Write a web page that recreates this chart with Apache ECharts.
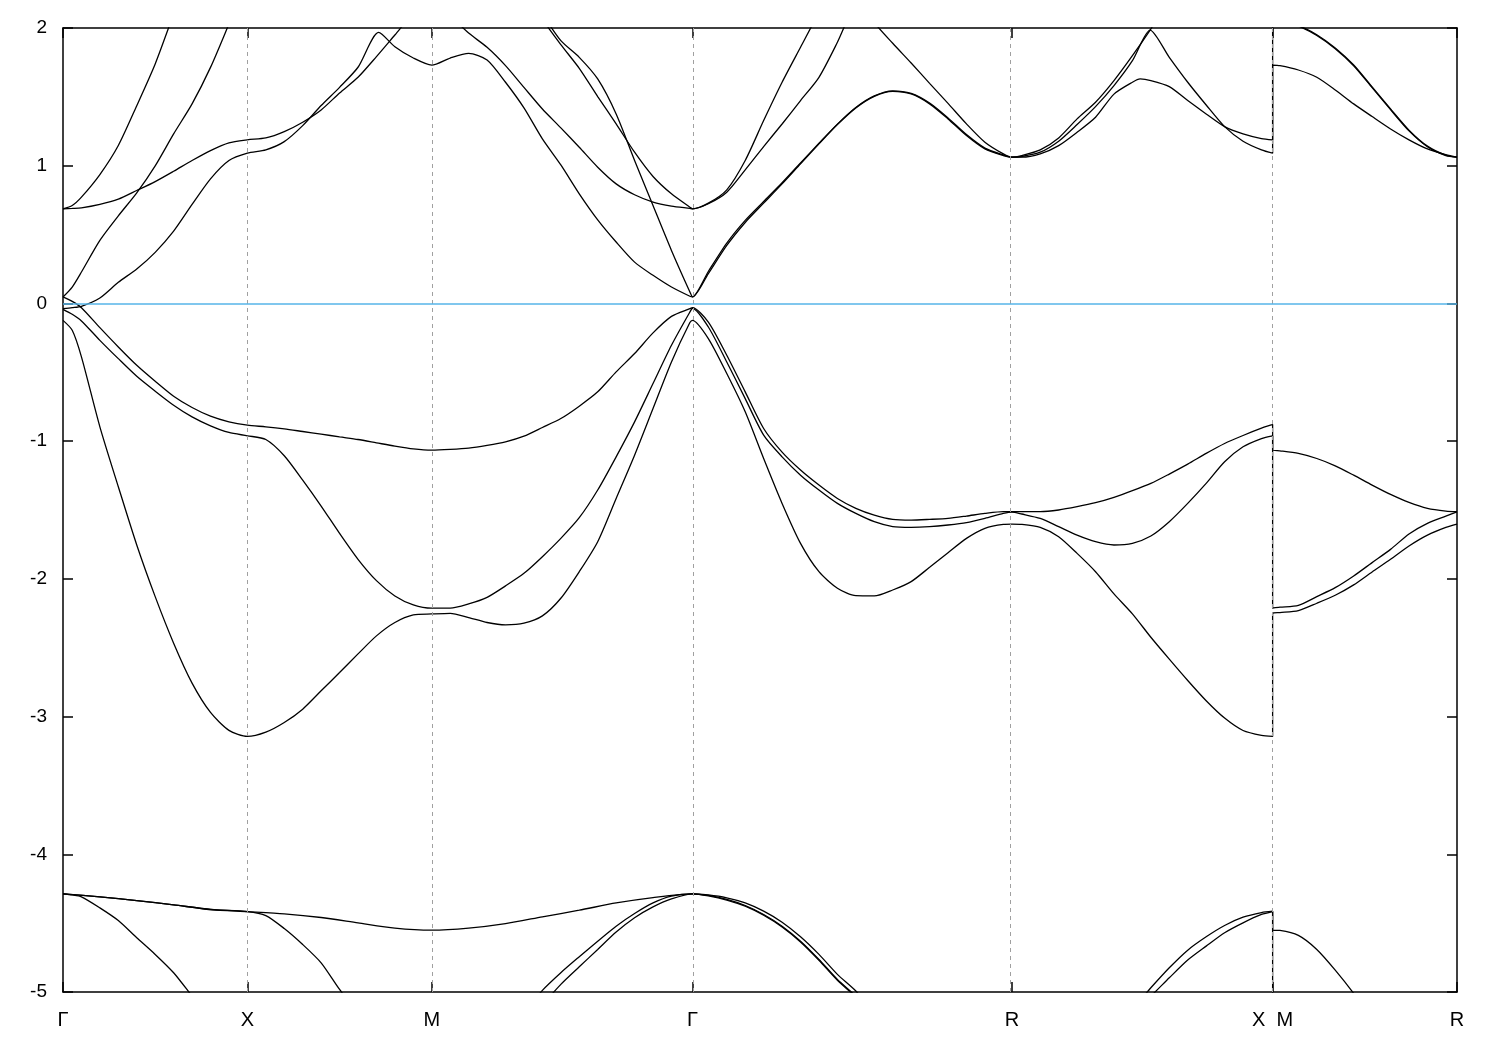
<!DOCTYPE html>
<html><head><meta charset="utf-8">
<script src="https://cdn.jsdelivr.net/npm/echarts@6/dist/echarts.min.js"></script>
<style>html,body{margin:0;padding:0;background:#fff}#c{width:1500px;height:1050px}</style>
</head><body><div id="c"></div>
<script>
// high-symmetry points along the k-path (units of 2*pi/a)
const symK = [0, 0.5, 1.0, 1.7071, 2.5731, 3.2802, 3.7802];
const symLabels = ['Γ', 'X', 'M', 'Γ', 'R', 'X  M', 'R'];
const eMin = -5, eMax = 2, eStep = 1;
const fermiLevel = 0;

// bands as [k, E(eV)] pairs (values outside [-5,2] are estimates, clipped)
const bandL1 = [[0,-4.287],[0.025,-4.295],[0.05,-4.309],[0.1,-4.389],[0.15,-4.481],[0.2,-4.606],[0.25,-4.727],[0.3,-4.86],[0.35,-5.03],[0.4,-5.2],[0.5,-5.5],[1.0,-5.8],[1.25,-5.3],[1.3,-5.1],[1.35,-4.945],[1.4,-4.817],[1.45,-4.691],[1.5,-4.565],[1.55,-4.461],[1.6,-4.382],[1.65,-4.324],[1.7071,-4.287],
 [1.75,-4.299],[1.8,-4.328],[1.85,-4.372],[1.9,-4.437],[1.95,-4.522],[2.0,-4.631],[2.05,-4.764],[2.1,-4.909],[2.15,-5.03],[2.25,-5.3],[2.5731,-5.8],[2.9,-5.7],[3.2802,-5.5],[3.2802,-5.9],[3.7802,-5.9]];
const bandL2 = [[0,-4.287],[0.1,-4.309],[0.2,-4.336],[0.3,-4.367],[0.4,-4.401],[0.5,-4.416],[0.55,-4.445],[0.6,-4.539],[0.65,-4.655],[0.7,-4.788],[0.75,-4.981],[0.8,-5.15],[1.0,-5.6],[1.25,-5.15],[1.3,-4.988],[1.35,-4.86],[1.4,-4.744],[1.45,-4.631],[1.5,-4.522],[1.55,-4.43],[1.6,-4.353],[1.65,-4.304],[1.7071,-4.287],
 [1.75,-4.302],[1.8,-4.332],[1.85,-4.377],[1.9,-4.443],[1.95,-4.528],[2.0,-4.637],[2.05,-4.77],[2.1,-4.915],[2.15,-5.036],[2.25,-5.3],[2.5731,-5.7],[2.9,-5.15],[2.95,-5.03],[3.0,-4.897],[3.05,-4.768],[3.1,-4.667],[3.15,-4.57],[3.2,-4.498],[3.25,-4.437],[3.2802,-4.416],
 [3.2802,-5.7],[3.7802,-5.9]];
const bandL3 = [[0,-4.287],[0.1,-4.309],[0.2,-4.336],[0.3,-4.367],[0.4,-4.401],[0.5,-4.416],[0.6,-4.432],[0.7,-4.459],[0.8,-4.498],[0.9,-4.536],[1.0,-4.551],[1.1,-4.536],[1.2,-4.503],[1.3,-4.454],[1.4,-4.406],[1.5,-4.353],[1.6,-4.314],[1.7071,-4.287],
 [1.75,-4.295],[1.8,-4.316],[1.85,-4.353],[1.9,-4.413],[1.95,-4.493],[2.0,-4.599],[2.05,-4.727],[2.1,-4.872],[2.15,-4.993],[2.2,-5.15],[2.5731,-5.8],[2.9,-5.12],[2.95,-4.969],[3.0,-4.824],[3.05,-4.696],[3.1,-4.599],[3.15,-4.517],[3.2,-4.457],[3.25,-4.423],[3.2802,-4.413],
 [3.2802,-4.551],[3.3,-4.553],[3.35,-4.589],[3.4,-4.691],[3.45,-4.841],[3.5,-5.01],[3.55,-5.2],[3.7802,-5.8]];
const bandV1 = [[0,-0.123],[0.025,-0.195],[0.05,-0.388],[0.1,-0.896],[0.15,-1.331],[0.2,-1.754],[0.25,-2.129],[0.3,-2.467],[0.35,-2.757],[0.4,-2.97],[0.45,-3.1],[0.5,-3.144],
 [0.55,-3.113],[0.6,-3.043],[0.65,-2.946],[0.7,-2.813],[0.75,-2.68],[0.8,-2.545],[0.85,-2.414],[0.9,-2.317],[0.95,-2.262],[1.0,-2.255],
 [1.05,-2.25],[1.1,-2.281],[1.15,-2.317],[1.2,-2.334],[1.25,-2.322],[1.3,-2.269],[1.35,-2.141],[1.4,-1.948],[1.45,-1.73],[1.5,-1.416],[1.55,-1.102],[1.6,-0.763],[1.65,-0.425],[1.7,-0.139],[1.7071,-0.123],
 [1.75,-0.255],[1.8,-0.509],[1.85,-0.787],[1.9,-1.126],[1.95,-1.452],[2.0,-1.742],[2.05,-1.948],[2.1,-2.068],[2.15,-2.122],[2.2,-2.124],[2.25,-2.081],[2.3,-2.02],[2.35,-1.916],[2.4,-1.81],[2.45,-1.706],[2.5,-1.633],[2.55,-1.604],[2.5731,-1.602],
 [2.6,-1.604],[2.65,-1.626],[2.7,-1.694],[2.75,-1.815],[2.8,-1.948],[2.85,-2.109],[2.9,-2.254],[2.95,-2.424],[3.0,-2.583],[3.05,-2.738],[3.1,-2.885],[3.15,-3.011],[3.2,-3.101],[3.25,-3.137],[3.2802,-3.144],
 [3.2802,-2.25],[3.3,-2.245],[3.35,-2.23],[3.4,-2.177],[3.45,-2.119],[3.5,-2.044],[3.55,-1.95],[3.6,-1.858],[3.65,-1.761],[3.7,-1.682],[3.75,-1.626],[3.7802,-1.602]];
const bandV2 = [[0,-0.043],[0.025,-0.079],[0.05,-0.127],[0.1,-0.268],[0.15,-0.401],[0.2,-0.529],[0.25,-0.637],[0.3,-0.739],[0.35,-0.824],[0.4,-0.889],[0.45,-0.937],[0.5,-0.961],
 [0.55,-0.988],[0.6,-1.106],[0.65,-1.283],[0.7,-1.471],[0.75,-1.67],[0.8,-1.858],[0.85,-2.013],[0.9,-2.124],[0.95,-2.189],[1.0,-2.213],
 [1.05,-2.213],[1.1,-2.182],[1.15,-2.134],[1.2,-2.051],[1.25,-1.96],[1.3,-1.839],[1.35,-1.706],[1.4,-1.556],[1.45,-1.355],[1.5,-1.114],[1.55,-0.86],[1.6,-0.582],[1.65,-0.304],[1.7,-0.062],[1.7071,-0.035],
 [1.75,-0.171],[1.8,-0.425],[1.85,-0.691],[1.9,-0.956],[1.95,-1.114],[2.0,-1.247],[2.05,-1.355],[2.1,-1.452],[2.15,-1.525],[2.2,-1.585],[2.25,-1.621],[2.3,-1.626],[2.35,-1.621],[2.4,-1.609],[2.45,-1.592],[2.5,-1.561],[2.55,-1.525],[2.5731,-1.515],
 [2.6,-1.529],[2.65,-1.561],[2.7,-1.621],[2.75,-1.682],[2.8,-1.73],[2.85,-1.754],[2.9,-1.742],[2.95,-1.689],[3.0,-1.585],[3.05,-1.452],[3.1,-1.307],[3.15,-1.15],[3.2,-1.041],[3.25,-0.981],[3.2802,-0.961],
 [3.2802,-2.213],[3.3,-2.206],[3.35,-2.192],[3.4,-2.129],[3.45,-2.064],[3.5,-1.979],[3.55,-1.882],[3.6,-1.786],[3.65,-1.674],[3.7,-1.597],[3.75,-1.544],[3.7802,-1.513]];
const bandV3 = [[0,0.047],[0.025,0.015],[0.05,-0.031],[0.1,-0.176],[0.15,-0.316],[0.2,-0.449],[0.25,-0.565],[0.3,-0.674],[0.35,-0.756],[0.4,-0.819],[0.45,-0.86],[0.5,-0.884],
 [0.55,-0.896],[0.6,-0.911],[0.65,-0.93],[0.7,-0.949],[0.75,-0.969],[0.8,-0.988],[0.85,-1.012],[0.9,-1.036],[0.95,-1.056],[1.0,-1.065],
 [1.05,-1.06],[1.1,-1.051],[1.15,-1.031],[1.2,-1.005],[1.25,-0.964],[1.3,-0.901],[1.35,-0.836],[1.4,-0.746],[1.45,-0.642],[1.5,-0.497],[1.55,-0.364],[1.6,-0.214],[1.65,-0.094],[1.7,-0.038],[1.7071,-0.031],
 [1.75,-0.135],[1.8,-0.376],[1.85,-0.642],[1.9,-0.908],[1.95,-1.08],[2.0,-1.21],[2.05,-1.319],[2.1,-1.416],[2.15,-1.488],[2.2,-1.537],[2.25,-1.568],[2.3,-1.573],[2.35,-1.568],[2.4,-1.561],[2.45,-1.544],[2.5,-1.525],[2.55,-1.512],[2.5731,-1.512],
 [2.6,-1.512],[2.65,-1.512],[2.7,-1.5],[2.75,-1.476],[2.8,-1.447],[2.85,-1.408],[2.9,-1.36],[2.95,-1.307],[3.0,-1.239],[3.05,-1.167],[3.1,-1.089],[3.15,-1.017],[3.2,-0.959],[3.25,-0.906],[3.2802,-0.879],
 [3.2802,-1.065],[3.3,-1.07],[3.35,-1.089],[3.4,-1.126],[3.45,-1.179],[3.5,-1.247],[3.55,-1.319],[3.6,-1.387],[3.65,-1.445],[3.7,-1.488],[3.75,-1.508],[3.7802,-1.512]];
const bandC1 = [[0,-0.038],[0.025,-0.031],[0.05,-0.021],[0.1,0.039],[0.15,0.153],[0.2,0.25],[0.25,0.371],[0.3,0.525],[0.35,0.719],[0.4,0.905],[0.45,1.038],[0.5,1.091],
 [0.55,1.115],[0.6,1.175],[0.65,1.291],[0.7,1.437],[0.75,1.569],[0.8,1.715],[0.856,1.968],[0.9,1.864],[0.95,1.782],[1.0,1.731],
 [1.05,1.782],[1.1,1.816],[1.15,1.768],[1.2,1.606],[1.25,1.42],[1.3,1.195],[1.35,1.006],[1.4,0.796],[1.45,0.607],[1.5,0.446],[1.55,0.3],[1.6,0.204],[1.65,0.119],[1.7,0.052],[1.7071,0.047],
 [1.75,0.216],[1.8,0.421],[1.85,0.588],[1.9,0.728],[1.95,0.868],[2.0,1.014],[2.05,1.159],[2.1,1.299],[2.15,1.42],[2.2,1.504],[2.25,1.54],[2.3,1.521],[2.35,1.449],[2.4,1.34],[2.45,1.219],[2.5,1.122],[2.55,1.074],[2.5731,1.062],
 [2.6,1.062],[2.65,1.086],[2.7,1.146],[2.75,1.243],[2.8,1.352],[2.85,1.52],[2.9,1.606],[2.921,1.63],[2.95,1.618],[3.0,1.574],[3.05,1.473],[3.1,1.376],[3.15,1.284],[3.2,1.231],[3.25,1.197],[3.2802,1.188],
 [3.2802,1.731],[3.3,1.727],[3.35,1.695],[3.4,1.642],[3.45,1.55],[3.5,1.449],[3.55,1.357],[3.6,1.267],[3.65,1.188],[3.7,1.122],[3.75,1.081],[3.7802,1.062]];
const bandC2 = [[0,0.047],[0.025,0.119],[0.05,0.228],[0.1,0.458],[0.15,0.636],[0.2,0.803],[0.25,0.999],[0.3,1.231],[0.35,1.449],[0.4,1.714],[0.45,2.029],[0.5,2.35],
 [0.75,2.6],[1.0,2.5],[1.25,2.3],[1.3,2.1],[1.35,1.908],[1.4,1.787],[1.45,1.63],[1.5,1.376],[1.55,1.038],[1.6,0.711],[1.65,0.385],[1.7,0.083],[1.7071,0.047],
 [1.75,0.232],[1.8,0.438],[1.85,0.603],[1.9,0.74],[1.95,0.876],[2.0,1.02],[2.05,1.163],[2.1,1.302],[2.15,1.423],[2.2,1.507],[2.25,1.544],[2.3,1.525],[2.35,1.455],[2.4,1.347],[2.45,1.226],[2.5,1.128],[2.55,1.078],[2.5731,1.062],
 [2.6,1.074],[2.65,1.115],[2.7,1.202],[2.75,1.34],[2.8,1.461],[2.85,1.618],[2.9,1.799],[2.948,1.985],[3.0,2.2],[3.1,2.5],[3.2802,2.6],
 [3.2802,2.08],[3.3,2.07],[3.35,2.02],[3.4,1.951],[3.45,1.855],[3.5,1.731],[3.55,1.572],[3.6,1.412],[3.65,1.258],[3.7,1.142],[3.75,1.076],[3.7802,1.062]];
const bandC3 = [[0,0.687],[0.025,0.69],[0.05,0.694],[0.1,0.719],[0.15,0.757],[0.2,0.82],[0.25,0.885],[0.3,0.96],[0.35,1.038],[0.4,1.11],[0.45,1.166],[0.5,1.188],
 [0.55,1.202],[0.6,1.248],[0.65,1.316],[0.7,1.405],[0.75,1.528],[0.8,1.642],[0.85,1.792],[0.9,1.949],[0.95,2.106],[1.0,2.2],
 [1.05,2.09],[1.1,1.963],[1.15,1.86],[1.2,1.727],[1.25,1.569],[1.3,1.412],[1.35,1.275],[1.4,1.134],[1.45,0.989],[1.5,0.868],[1.55,0.789],[1.6,0.736],[1.65,0.707],[1.7,0.69],[1.7071,0.687],
 [1.75,0.728],[1.8,0.825],[1.85,1.038],[1.9,1.328],[1.95,1.606],[2.0,1.86],[2.05,2.113],[2.1,2.35],[2.15,2.25],[2.2,2.04],[2.25,1.889],[2.3,1.746],[2.35,1.598],[2.4,1.453],[2.45,1.304],[2.5,1.171],[2.55,1.086],[2.5731,1.062],
 [2.6,1.067],[2.65,1.098],[2.7,1.178],[2.75,1.299],[2.8,1.429],[2.85,1.582],[2.9,1.763],[2.948,1.985],[3.0,1.787],[3.05,1.606],[3.1,1.441],[3.15,1.284],[3.2,1.178],[3.25,1.115],[3.2802,1.091],
 [3.2802,2.09],[3.3,2.065],[3.35,2.015],[3.4,1.946],[3.45,1.85],[3.5,1.726],[3.55,1.567],[3.6,1.407],[3.65,1.253],[3.7,1.138],[3.75,1.073],[3.7802,1.062]];
const bandC4 = [[0,0.687],[0.025,0.711],[0.05,0.772],[0.1,0.936],[0.15,1.147],[0.2,1.436],[0.25,1.739],[0.3,2.101],[0.35,2.45],[0.5,3.0],
 [0.75,3.0],[1.0,2.7],[1.25,2.3],[1.3,2.065],[1.35,1.879],[1.4,1.707],[1.45,1.502],[1.5,1.304],[1.55,1.098],[1.6,0.922],[1.65,0.796],[1.7,0.699],[1.7071,0.687],
 [1.75,0.724],[1.8,0.808],[1.85,0.97],[1.9,1.139],[1.95,1.303],[2.0,1.473],[2.05,1.642],[2.1,1.896],[2.15,2.174],[2.3,2.6],[2.5731,2.7],[3.2802,2.8],
 [3.2802,2.7],[3.7802,2.6]];

const bands = [bandL1, bandL2, bandL3, bandV1, bandV2, bandV3, bandC1, bandC2, bandC3, bandC4];

const FONT = '"Liberation Sans", Arial, sans-serif';
const axisLineStyle = { color: '#000', width: 1.5 };
function symLabel(v) {
  for (let i = 0; i < symK.length; i++) if (Math.abs(symK[i] - v) < 1e-6) return symLabels[i];
  return '';
}
const series = bands.map((b) => ({
  type: 'line', data: b, showSymbol: false, symbol: 'none', clip: true, silent: true,
  smooth: 0.25,
  lineStyle: { color: '#000', width: 1.3 }, z: 3
}));
// dashed guides at interior high-symmetry points
series.push({
  type: 'line', data: [], silent: true, z: 1,
  markLine: { silent: true, symbol: ['none', 'none'], label: { show: false },
    lineStyle: { color: '#a0a0a0', type: [4, 4], width: 1 },
    data: symK.slice(1, -1).map(k => ({ xAxis: k })) }
});
// Fermi level
series.push({
  type: 'line', data: [], silent: true, z: 4,
  markLine: { silent: true, symbol: ['none', 'none'], label: { show: false },
    lineStyle: { color: '#56b4e9', type: 'solid', width: 1.5 },
    data: [{ yAxis: fermiLevel }] }
});

const chart = echarts.init(document.getElementById('c'), null, { renderer: 'canvas' });
chart.setOption({
  animation: false,
  backgroundColor: '#fff',
  grid: { left: 63, top: 28, width: 1394, height: 964, containLabel: false, outerBoundsMode: 'none' },
  xAxis: [
    { type: 'value', min: symK[0], max: symK[symK.length - 1], position: 'bottom',
      axisLine: { show: true, onZero: false, lineStyle: axisLineStyle },
      axisTick: { show: true, inside: true, length: 10, customValues: symK, lineStyle: axisLineStyle },
      axisLabel: { show: true, customValues: symK, formatter: symLabel, color: '#000', fontFamily: FONT, fontSize: 20, margin: 18 },
      splitLine: { show: false } },
    { type: 'value', min: symK[0], max: symK[symK.length - 1], position: 'top',
      axisLine: { show: true, onZero: false, lineStyle: axisLineStyle },
      axisTick: { show: true, inside: true, length: 10, customValues: symK, lineStyle: axisLineStyle },
      axisLabel: { show: false }, splitLine: { show: false } }
  ],
  yAxis: [
    { type: 'value', min: eMin, max: eMax, interval: eStep, position: 'left',
      axisLine: { show: true, onZero: false, lineStyle: axisLineStyle },
      axisTick: { show: true, inside: true, length: 10, lineStyle: axisLineStyle },
      axisLabel: { show: true, color: '#000', fontFamily: FONT, fontSize: 19, margin: 16 },
      splitLine: { show: false } },
    { type: 'value', min: eMin, max: eMax, interval: eStep, position: 'right',
      axisLine: { show: true, onZero: false, lineStyle: axisLineStyle },
      axisTick: { show: true, inside: true, length: 10, lineStyle: axisLineStyle },
      axisLabel: { show: false }, splitLine: { show: false } }
  ],
  series: series
});
</script></body></html>
